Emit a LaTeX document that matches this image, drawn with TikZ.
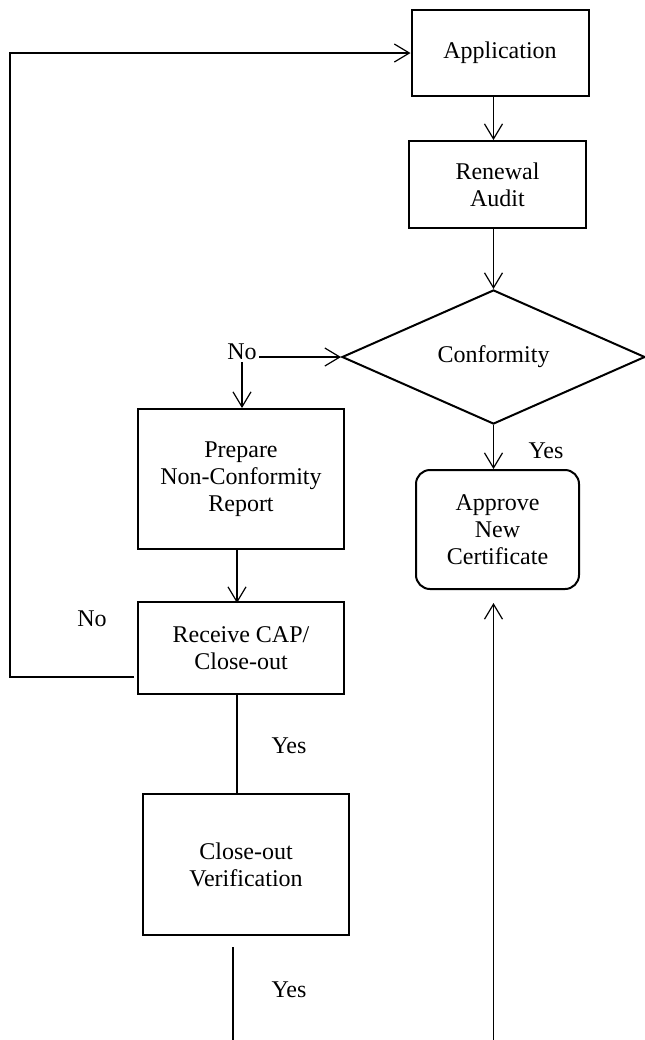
\documentclass[tikz,border=0pt]{standalone}
\usepackage{fontspec}
\setmainfont{Liberation Serif}
\usetikzlibrary{shapes.geometric,arrows.meta}

\tikzset{
  box/.style={draw,line width=1pt,align=center,inner sep=2pt,
    font=\fontsize{12}{13.5}\selectfont},
  decision/.style={draw,diamond,line width=1pt,inner sep=0pt,
    minimum width=151.5pt,minimum height=64pt,font=\fontsize{12}{13.5}\selectfont},
  arr/.style={->,line width=0.6pt},
  lbl/.style={inner sep=1pt,font=\fontsize{12}{13.5}\selectfont},
}

\begin{document}
\begin{tikzpicture}[x=0.5pt,y=-0.5pt,>={Straight Barb[length=7.5pt,width=9pt]}]
		\useasboundingbox (0,0) rectangle (644,1040);

		% process boxes
		\node[box,minimum width=88.5pt,minimum height=43pt] (app) at (500,53) {Application};
		\node[box,minimum width=88.5pt,minimum height=43.5pt] (renew) at (497.5,184.5) {Renewal\\Audit};
		\node[decision] (conf) at (493.5,357) {Conformity};
		\node[box,minimum width=103pt,minimum height=70pt] (prep) at (241,479) {Prepare\\Non-Conformity\\Report};
		\node[box,minimum width=103pt,minimum height=46pt] (recv) at (241,648) {Receive CAP/\\Close-out};
		\node[box,minimum width=103pt,minimum height=70.5pt] (close) at (246,864.5) {Close-out\\Verification};
		\node[box,rounded corners=7pt,minimum width=81.5pt,minimum height=59.5pt] (approve) at (497.5,529.5) {Approve\\New\\Certificate};

		% labels
		\node[lbl] (no1) at (242,352) {No};
		\node[lbl] (no2) at (92,619) {No};
		\node[lbl] (yes1) at (546,451) {Yes};
		\node[lbl] (yes2) at (289,746) {Yes};
		\node[lbl] (yes3) at (289,990) {Yes};

		\coordinate (loop) at (10,677);
		\coordinate (nofoot) at (134,677);
		\coordinate (bot) at (0,1040);

		% connectors
		\draw[arr] (conf.north |- app.south) -- (conf.north |- renew.north);
		\draw[arr] (conf.north |- renew.south) -- (conf.north);
		\draw[arr] (no1.east |- conf.west) -- (conf.west);
		\draw[arr] (no1.south) -- (no1.south |- prep.north);
		\draw[arr] (conf.south) -- (conf.south |- approve.north);
		\draw[arr] (prep.south) ++(-4,0) -- ++(0,53);
		\draw[line width=0.6pt] (recv.south) ++(-4,0) -- ++(0,99);
		\draw[arr] (nofoot) -- (loop) |- (app.west);
		\draw[line width=0.6pt] (recv.south |- close.south) ++(-8,11) -- ++(0,94);
		\draw[arr] (conf.south |- bot) -- ([yshift=-6.5pt]conf.south |- approve.south);

	\end{tikzpicture}
\end{document}
